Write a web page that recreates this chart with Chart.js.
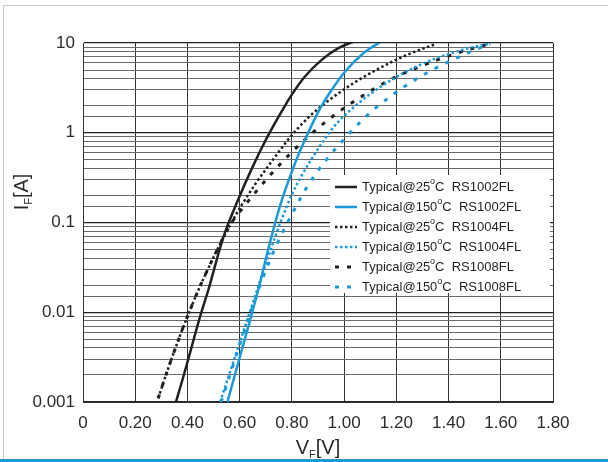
<!DOCTYPE html>
<html>
<head>
<meta charset="utf-8">
<title>Forward characteristics</title>
<script src="https://cdn.jsdelivr.net/npm/chart.js@4"></script>
<style>
  body { margin: 0; background: #fff; }
  #wrap { position: relative; width: 608px; height: 462px; }
  .edge-l { position: absolute; left: 3px; top: 5px; width: 1px; height: 454px; background: #c8c8c8; }
  .edge-t { position: absolute; left: 3px; top: 5px; width: 605px; height: 1px; background: #c8c8c8; }
  .edge-b { position: absolute; left: 0; top: 459px; width: 608px; height: 3px; background: #1b9ad7; }
</style>
</head>
<body>
<div id="wrap">
  <canvas id="vfChart"></canvas>
  <div class="edge-l"></div>
  <div class="edge-t"></div>
  <div class="edge-b"></div>
</div>
<script>
const BLACK = '#231f20';
const BLUE = '#1b9ad7';
const FONT = "'Liberation Sans', Arial, sans-serif";

// tick labels
const xTicks = [0, 0.2, 0.4, 0.6, 0.8, 1.0, 1.2, 1.4, 1.6, 1.8];
const xTickLabels = ['0', '0.20', '0.40', '0.60', '0.80', '1.00', '1.20', '1.40', '1.60', '1.80'];
const yTicks = [0.001, 0.01, 0.1, 1, 10];
const yTickLabels = ['0.001', '0.01', '0.1', '1', '10'];

// series labels
const seriesLabels = [
  'Typical@25°C  RS1002FL',
  'Typical@150°C  RS1002FL',
  'Typical@25°C  RS1004FL',
  'Typical@150°C  RS1004FL',
  'Typical@25°C  RS1008FL',
  'Typical@150°C  RS1008FL'
];

// VF [V] / IF [A]
const vf25_1002 = [0.356, 0.384, 0.416, 0.448, 0.480, 0.537, 0.601, 0.655, 0.697, 0.735, 0.774, 0.799, 0.85, 0.914, 0.978, 1.038];
const if25_1002 = [0.001, 0.0019, 0.0041, 0.0089, 0.0177, 0.068, 0.2, 0.45, 0.8, 1.28, 2.01, 2.64, 4.23, 6.49, 8.77, 10.4];

const vf150_1002 = [0.553, 0.601, 0.64, 0.671, 0.71, 0.754, 0.812, 0.837, 0.901, 0.952, 1.003, 1.074, 1.137];
const if150_1002 = [0.001, 0.0032, 0.0082, 0.0177, 0.051, 0.151, 0.457, 0.684, 1.71, 2.99, 4.79, 7.7, 10.2];

const vf25_1004 = [0.288, 0.32, 0.352, 0.384, 0.416, 0.448, 0.512, 0.563, 0.608, 0.659, 0.723, 0.78, 0.863, 0.952, 1.042, 1.112, 1.201, 1.275, 1.348];
const if25_1004 = [0.0011, 0.0021, 0.00385, 0.00684, 0.0117, 0.0194, 0.0483, 0.0933, 0.157, 0.266, 0.48, 0.8, 1.48, 2.42, 3.66, 4.81, 6.54, 8.1, 9.66];

const vf150_1004 = [0.525, 0.563, 0.595, 0.627, 0.659, 0.684, 0.723, 0.761, 0.80, 0.838, 0.879, 0.959, 1.048, 1.137, 1.201, 1.315, 1.463, 1.56];
const if150_1004 = [0.001, 0.00216, 0.00413, 0.0079, 0.0151, 0.025, 0.054, 0.109, 0.205, 0.335, 0.53, 1.15, 2.05, 3.21, 4.19, 6.12, 8.55, 9.9];

const vf25_1008 = [0.288, 0.32, 0.352, 0.384, 0.416, 0.448, 0.512, 0.563, 0.614, 0.665, 0.71, 0.754, 0.806, 0.901, 0.956, 1.01, 1.067, 1.125, 1.186, 1.31, 1.374, 1.47, 1.56];
const if25_1008 = [0.0011, 0.0021, 0.00385, 0.00684, 0.0117, 0.0194, 0.0483, 0.0933, 0.148, 0.225, 0.32, 0.443, 0.635, 1.135, 1.52, 1.97, 2.54, 3.21, 4.03, 5.75, 6.76, 8.34, 9.84];

const vf150_1008 = [0.529, 0.563, 0.595, 0.627, 0.659, 0.691, 0.723, 0.754, 0.786, 0.818, 0.85, 0.927, 1.016, 1.067, 1.116, 1.169, 1.221, 1.337, 1.456, 1.56];
const if150_1008 = [0.001, 0.002, 0.0039, 0.0074, 0.0138, 0.0251, 0.0427, 0.0676, 0.1035, 0.155, 0.229, 0.479, 0.955, 1.36, 1.84, 2.43, 3.13, 5.0, 7.35, 9.8];

function pts(xs, ys) {
  return xs.map((x, i) => ({ x: x, y: ys[i] }));
}

function series(label, xs, ys, color, dash, width) {
  return {
    label: label,
    data: pts(xs, ys),
    borderColor: color,
    borderWidth: width,
    borderDash: dash,
    borderCapStyle: 'butt',
    pointRadius: 0,
    fill: false,
    cubicInterpolationMode: 'monotone'
  };
}

function isDecade(v) {
  const l = Math.log10(v);
  return Math.abs(l - Math.round(l)) < 1e-6;
}

// legend box + axis titles with subscripts
const decor = {
  id: 'decor',
  afterDraw(chart) {
    const ctx = chart.ctx;
    const area = chart.chartArea;
    ctx.save();

    // legend
    const lx = area.left + 247, ly = area.top + 132;
    ctx.fillStyle = '#fff';
    ctx.fillRect(lx, ly, 220, 118);
    chart.data.datasets.forEach((ds, i) => {
      const y = ly + 12 + i * 20;
      ctx.strokeStyle = ds.borderColor;
      ctx.lineWidth = ds.borderWidth;
      ctx.lineCap = 'butt';
      ctx.setLineDash(ds.borderDash || []);
      ctx.beginPath();
      ctx.moveTo(lx + 5, y);
      ctx.lineTo(lx + 27, y);
      ctx.stroke();
      ctx.setLineDash([]);

      const parts = ds.label.split('°');
      ctx.fillStyle = BLACK;
      ctx.textBaseline = 'middle';
      ctx.textAlign = 'left';
      ctx.font = '13px ' + FONT;
      let x = lx + 32;
      ctx.fillText(parts[0], x, y);
      x += ctx.measureText(parts[0]).width;
      ctx.font = '9px ' + FONT;
      ctx.fillText('o', x, y - 5);
      x += ctx.measureText('o').width;
      ctx.font = '13px ' + FONT;
      ctx.fillText(parts[1], x, y);
    });

    // x title
    ctx.fillStyle = '#2b2b2b';
    ctx.textBaseline = 'alphabetic';
    ctx.textAlign = 'left';
    const big = '20px ' + FONT, small = '11px ' + FONT;
    ctx.font = big; const wV = ctx.measureText('V').width; const wB = ctx.measureText('[V]').width;
    ctx.font = small; const wF = ctx.measureText('F').width;
    let tx = (area.left + area.right) / 2 - (wV + wF + wB) / 2;
    const ty = 454;
    ctx.font = big; ctx.fillText('V', tx, ty); tx += wV;
    ctx.font = small; ctx.fillText('F', tx, ty + 4); tx += wF;
    ctx.font = big; ctx.fillText('[V]', tx, ty);

    // y title (rotated)
    ctx.translate(28, 192);
    ctx.rotate(-Math.PI / 2);
    ctx.font = big; const wI = ctx.measureText('I').width; const wA = ctx.measureText('[A]').width;
    ctx.font = small; const wF2 = ctx.measureText('F').width;
    let yx = -(wI + wF2 + wA) / 2;
    ctx.font = big; ctx.fillText('I', yx, 0); yx += wI;
    ctx.font = small; ctx.fillText('F', yx, 4); yx += wF2;
    ctx.font = big; ctx.fillText('[A]', yx, 0);

    ctx.restore();
  }
};

new Chart(document.getElementById('vfChart'), {
  type: 'line',
  data: {
    datasets: [
      series(seriesLabels[0], vf25_1002, if25_1002, BLACK, [], 2.5),
      series(seriesLabels[1], vf150_1002, if150_1002, BLUE, [], 2.5),
      series(seriesLabels[2], vf25_1004, if25_1004, BLACK, [2.5, 2.5], 2.5),
      series(seriesLabels[3], vf150_1004, if150_1004, BLUE, [2.5, 2.5], 2.5),
      series(seriesLabels[4], vf25_1008, if25_1008, BLACK, [4, 8], 3),
      series(seriesLabels[5], vf150_1008, if150_1008, BLUE, [4, 8], 3)
    ]
  },
  options: {
    responsive: true,
    maintainAspectRatio: false,
    animation: false,
    layout: { padding: { left: 0, right: 55, top: 43, bottom: 0 } },
    plugins: {
      legend: { display: false },
      tooltip: { enabled: false }
    },
    scales: {
      x: {
        type: 'linear',
        min: 0,
        max: 1.8,
        afterBuildTicks: s => { s.ticks = xTicks.map(v => ({ value: v })); },
        ticks: {
          autoSkip: false,
          maxRotation: 0,
          padding: 11,
          color: '#2b2b2b',
          font: { size: 17, family: FONT },
          callback: v => {
            const i = xTicks.findIndex(t => Math.abs(t - v) < 1e-6);
            return i >= 0 ? xTickLabels[i] : '';
          }
        },
        grid: { color: '#333', lineWidth: 1, drawTicks: false },
        border: { color: '#333', width: 1 },
        afterFit: s => { s.height = 60; }
      },
      y: {
        type: 'logarithmic',
        min: 0.001,
        max: 10,
        ticks: {
          autoSkip: false,
          padding: 8,
          color: '#2b2b2b',
          font: { size: 17, family: FONT },
          callback: v => {
            if (!isDecade(v)) return '';
            const i = yTicks.findIndex(t => Math.abs(Math.log10(t) - Math.log10(v)) < 1e-6);
            return i >= 0 ? yTickLabels[i] : '';
          }
        },
        grid: {
          drawTicks: false,
          color: c => (c.tick && isDecade(c.tick.value)) ? '#222' : '#6a6a6a',
          lineWidth: c => (c.tick && isDecade(c.tick.value)) ? 1.2 : 1
        },
        border: { color: '#333', width: 1 },
        afterFit: s => { s.width = 83; }
      }
    }
  },
  plugins: [decor]
});
</script>
</body>
</html>
